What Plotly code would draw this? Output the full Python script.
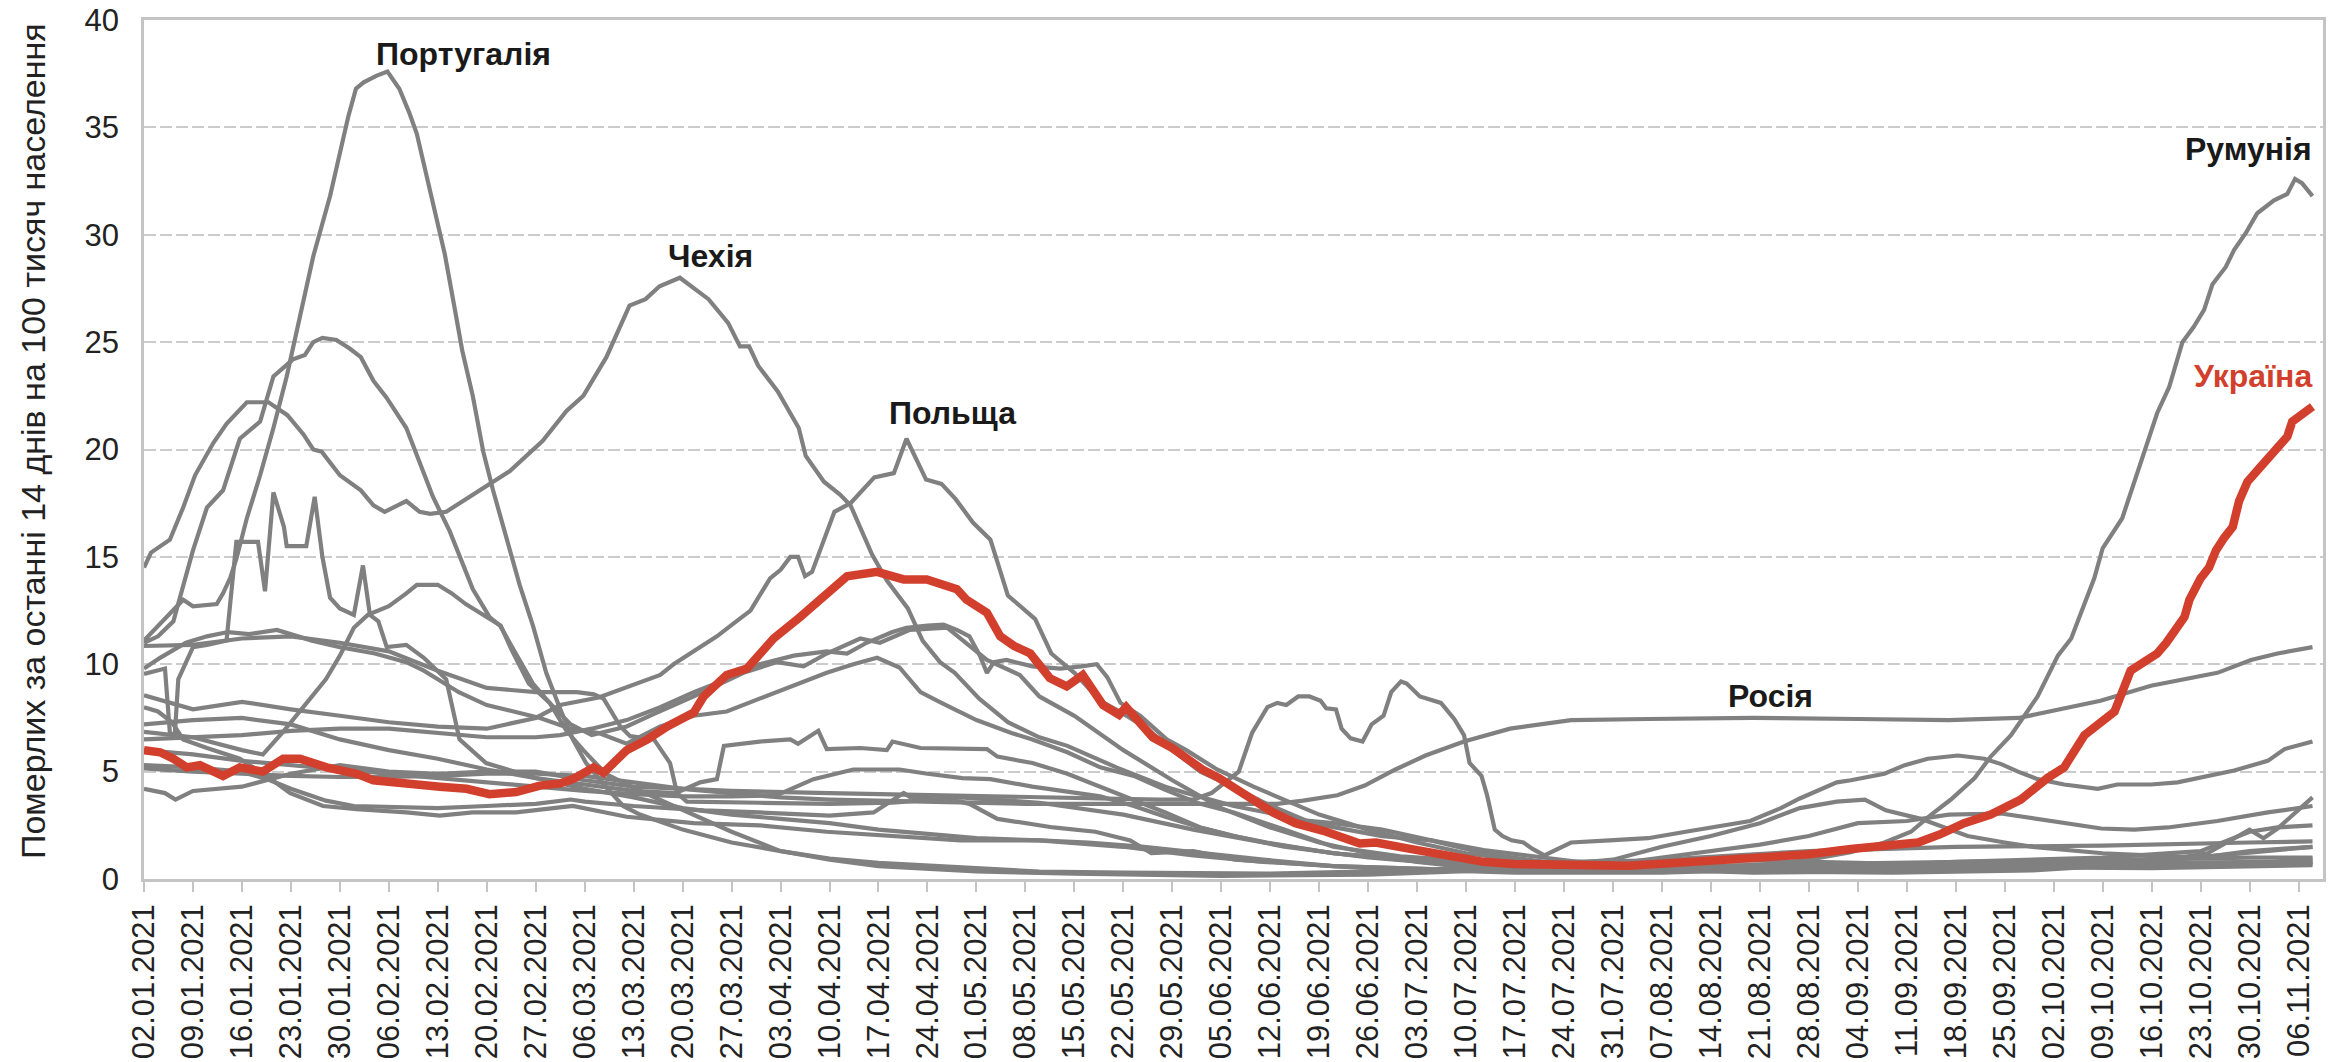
import pandas as pd
import plotly.graph_objects as go

# ---------------- data: (day offset from 02.01.2021, deaths per 100k over 14 days) ----------------
start_date = "2021-01-02"

ukraine = [(0, 6.0), (2.3, 5.9), (4.2, 5.6), (6.1, 5.2), (8, 5.3), (11.3, 4.8), (13.7, 5.2), (17, 5.0),
           (19.9, 5.6), (22.3, 5.6), (26.1, 5.2), (30.4, 4.9), (32.8, 4.6), (37.5, 4.5), (42.3, 4.3),
           (46.1, 4.2), (49.4, 3.95), (53.2, 4.05), (56.6, 4.35), (59.5, 4.45), (61.3, 4.65), (64.3, 5.2),
           (65.7, 4.95), (69, 6.0), (72, 6.5), (74.8, 7.1), (78.6, 7.75), (80, 8.5), (83.3, 9.5), (86.2, 9.8),
           (90, 11.2), (93.8, 12.2), (97.6, 13.3), (100.5, 14.1), (104.8, 14.3), (108.6, 13.95), (111.9, 13.95),
           (114, 13.7), (116.2, 13.5), (117.6, 13.0), (120.5, 12.4), (122.4, 11.3), (124.4, 10.85), (126.7, 10.5),
           (128.6, 9.7), (129.5, 9.35), (131.9, 8.97), (134.2, 9.5), (137.1, 8.1), (139.4, 7.65), (140.4, 8.0),
           (144.2, 6.6), (147, 6.1), (151.3, 5.1), (153.7, 4.7), (158, 3.8), (161.4, 3.1), (164.6, 2.6),
           (169, 2.2), (173.8, 1.65), (176.1, 1.7), (181, 1.4), (184.3, 1.2), (187.6, 1.0), (191.5, 0.8),
           (195.8, 0.7), (204, 0.62), (212.2, 0.62), (220.4, 0.78), (229.6, 0.93), (238, 1.15), (244, 1.4),
           (249.8, 1.6), (253.6, 1.7), (256.9, 2.1), (260.2, 2.6), (264, 3.0), (268.3, 3.7), (272.1, 4.7),
           (274.5, 5.2), (277.4, 6.7), (281.7, 7.8), (284, 9.7), (287.8, 10.5), (289.1, 11.0), (290.5, 11.65),
           (291.7, 12.2), (292.4, 13.0), (294, 14.0), (295.2, 14.5), (296.2, 15.3), (297.4, 15.9), (298.6, 16.4),
           (299.5, 17.6), (300.7, 18.5), (302.6, 19.2), (304, 19.7), (305, 20.2), (306.4, 20.6), (307.1, 21.3),
           (308.3, 21.55), (310, 22.0)]

portugal = [(0, 11.1), (3.7, 12.4), (5.6, 13.0), (7, 12.7), (10.4, 12.8), (11.3, 13.3), (12.3, 14.0), (13.2, 14.9),
            (14.7, 16.8), (16.6, 18.8), (18.5, 21.0), (20.4, 23.4), (22.3, 26.3), (24.2, 29.0), (26.6, 31.8),
            (28.5, 34.5), (29.2, 35.5), (30.3, 36.8), (31.4, 37.1), (33.2, 37.4), (34.8, 37.6), (36.5, 36.8),
            (37.9, 35.7), (39, 34.7), (40.1, 33.2), (41.5, 31.3), (43, 29.1), (44.4, 26.6), (45.5, 24.6),
            (47, 22.5), (48.5, 19.9), (49.9, 18.1), (51.8, 15.9), (53.7, 13.7), (55.6, 11.8), (57.5, 9.6),
            (59.4, 8.0), (61.3, 6.5), (63.2, 5.4), (66, 4.3), (68.5, 3.4), (70.9, 3.0), (77, 2.3), (84, 1.7),
            (91, 1.3), (98, 0.95), (105, 0.75), (112, 0.62), (119, 0.5), (128, 0.35), (140, 0.3), (161, 0.25),
            (182, 0.4), (203, 0.8), (224, 0.9), (245, 0.75), (266, 0.55), (287, 0.5), (310, 0.65)]

czechia = [(0, 14.5), (1, 15.2), (3.7, 15.8), (5.6, 17.3), (7.3, 18.8), (9.9, 20.3), (11.8, 21.2), (14.7, 22.2),
           (17.8, 22.2), (20.5, 21.6), (22.8, 20.7), (24.2, 20.0), (25.4, 19.9), (28, 18.8), (31, 18.1),
           (32.8, 17.4), (34.4, 17.1), (37.5, 17.6), (39.4, 17.1), (40.9, 17.0), (43.2, 17.1), (46.6, 17.8),
           (52.3, 19.0), (57, 20.4), (60.4, 21.8), (62.8, 22.5), (66.1, 24.3), (69.4, 26.7), (71.7, 27.0),
           (73.7, 27.6), (76.6, 28.0), (80.7, 27.0), (83.5, 25.9), (85.2, 24.8), (86.5, 24.8), (87.8, 23.9),
           (90.6, 22.7), (93.6, 21.0), (94.6, 19.7), (97.2, 18.5), (99.5, 17.9), (101, 17.4), (102.8, 16.0),
           (104.1, 15.1), (106.2, 13.9), (109.2, 12.6), (111.3, 11.1), (113.8, 10.1), (115.9, 9.6), (119.4, 8.4),
           (123.5, 7.3), (128, 6.6), (132, 6.2), (139, 5.2), (146, 4.3), (149, 4.0), (155.8, 3.4), (160.5, 3.1),
           (165, 2.75), (170, 2.6), (177, 2.3), (184, 1.8), (191.5, 1.2), (200, 0.8), (210, 0.5), (230, 0.3),
           (250, 0.35), (270, 0.5), (290, 0.9), (310, 1.5)]

uk = [(0, 11.0), (2, 11.3), (4.2, 12.0), (7, 15.3), (9, 17.3), (11.3, 18.1), (13.7, 20.5), (16.6, 21.3),
      (18.5, 23.4), (21.3, 24.2), (23, 24.4), (24.2, 25.0), (25.5, 25.2), (27.5, 25.1), (29.4, 24.7), (31, 24.3),
      (32.8, 23.2), (34.7, 22.4), (37.5, 21.0), (39, 19.7), (41.3, 17.8), (43.7, 16.2), (45.1, 15.1), (47, 13.5),
      (49.4, 12.2), (50.9, 11.8), (52.8, 10.7), (55.6, 9.1), (58, 8.2), (60.4, 6.9), (62.8, 6.0), (66, 4.9),
      (70.9, 4.1), (77, 3.2), (84, 2.2), (91, 1.3), (98, 0.9), (105, 0.6), (119, 0.35), (133, 0.25), (154, 0.15),
      (175, 0.2), (196, 0.45), (217, 0.9), (238, 1.3), (259, 1.5), (280, 1.55), (301, 1.7), (310, 1.75)]

poland = [(0, 8.55), (7, 7.9), (14, 8.25), (21, 7.9), (28, 7.6), (35, 7.3), (42, 7.1), (49, 7.0), (56, 7.5),
          (59.5, 8.1), (65, 8.45), (70.5, 9.1), (73.8, 9.5), (75.7, 10.0), (78.6, 10.6), (81.9, 11.3), (84.3, 11.9),
          (86.7, 12.5), (89.5, 14.0), (91, 14.4), (92.4, 15.0), (93.5, 15.0), (94.5, 14.1), (95.5, 14.3),
          (96.7, 15.35), (98.7, 17.1), (101, 17.5), (104.4, 18.7), (107.2, 18.9), (109, 20.5), (111.8, 18.6),
          (114, 18.4), (116, 17.7), (118.5, 16.6), (121, 15.8), (123.5, 13.2), (127.4, 12.1), (129.7, 10.5),
          (133, 9.6), (136.7, 8.3), (140, 7.7), (143.4, 7.0), (147, 6.0), (151, 5.0), (155, 4.4), (160.5, 3.5),
          (167, 2.6), (172, 2.3), (177, 2.0), (184, 1.8), (191.5, 1.35), (200, 1.0), (210, 0.6), (230, 0.35),
          (250, 0.3), (270, 0.4), (285, 0.7), (295, 1.2), (301, 2.3), (303, 1.9), (305, 2.35), (310, 3.8)]

romania = [(0, 6.85), (7, 6.6), (14, 6.0), (17, 5.8), (20, 6.9), (23, 8.1), (26, 9.3), (28, 10.4), (30, 11.7),
           (32, 12.3), (35, 12.7), (37.5, 13.3), (39, 13.7), (42, 13.7), (44, 13.3), (46, 12.8), (49, 12.2),
           (51, 11.8), (52.5, 10.7), (55, 9.1), (58, 8.2), (61, 7.2), (64, 6.7), (69, 7.1), (73, 7.7), (78.6, 8.5),
           (85.7, 9.6), (90.5, 10.1), (94.3, 9.9), (97.6, 10.5), (102.4, 11.2), (105.2, 11.0), (109.5, 11.6),
           (114.8, 11.7), (116.7, 11.2), (120.5, 10.2), (125.2, 9.5), (128, 8.5), (133, 7.6), (140, 6.0),
           (147, 4.6), (154, 3.3), (161, 2.4), (168, 1.7), (175, 1.2), (182, 0.8), (189, 0.55), (203, 0.35),
           (217, 0.35), (231, 0.6), (238, 0.9), (244, 1.25), (248.8, 1.7), (252.6, 2.2), (255.5, 3.0),
           (258.3, 3.7), (261.7, 4.7), (264, 5.7), (266.9, 6.7), (270.7, 8.5), (273.6, 10.4), (275.5, 11.2),
           (278.8, 14.0), (280, 15.4), (282.8, 16.8), (285.2, 19.2), (286.4, 20.4), (287.8, 21.7), (289.5, 22.9),
           (291.4, 25.0), (293, 25.7), (294.5, 26.5), (295.7, 27.7), (297.6, 28.5), (298.8, 29.3), (300.5, 30.1),
           (302.1, 31.0), (304.5, 31.6), (306.4, 31.9), (307.5, 32.6), (308.5, 32.4), (310, 31.8)]

russia = [(0, 5.15), (7, 5.0), (14, 4.9), (21, 4.8), (28, 4.75), (35, 4.75), (42, 4.8), (49, 4.9), (56, 4.9),
          (63, 4.8), (70, 4.5), (77, 4.2), (84, 4.0), (91, 3.8), (98, 3.7), (112, 3.6), (126, 3.5), (140, 3.5),
          (154, 3.5), (162, 3.5), (165.7, 3.65), (170.6, 3.9), (174.5, 4.35), (178.9, 5.1), (183.2, 5.75),
          (188.7, 6.4), (195.3, 7.0), (204, 7.4), (215, 7.45), (230, 7.5), (245, 7.45), (258, 7.4), (268, 7.5),
          (272.6, 7.8), (279.7, 8.3), (286.9, 9.0), (296.4, 9.6), (301.2, 10.2), (305, 10.5), (310, 10.8)]

spiky = [(0, 9.55), (3, 9.8), (3.7, 6.8), (4.4, 6.7), (4.9, 9.3), (7, 10.8), (9, 10.9), (11.8, 11.1), (13.2, 15.7),
         (16.3, 15.7), (17.3, 13.4), (18.5, 18.0), (20, 16.4), (20.4, 15.5), (23.2, 15.5), (24.4, 17.8), (25.5, 15.0),
         (26.6, 13.1), (28, 12.6), (30, 12.3), (31.3, 14.6), (32.3, 12.3), (33.5, 12.0), (34.7, 10.8), (37.5, 10.9),
         (40, 10.3), (43.2, 9.3), (44.7, 7.1), (45.1, 6.5), (48.9, 5.4), (56, 4.7), (63, 4.2), (70, 3.8), (77, 3.3),
         (84, 3.0), (91, 2.8), (98, 2.6), (105, 2.3), (112, 2.1), (119, 1.9), (128, 1.8), (140, 1.5), (150, 1.1),
         (160, 0.8), (175, 0.5), (196, 0.3), (217, 0.3), (238, 0.5), (259, 0.8), (280, 1.0), (294, 1.3), (301, 2.2),
         (305, 2.4), (310, 2.5)]

country_t = [(0, 10.85), (7, 10.9), (14, 11.2), (21, 11.3), (28, 11.0), (35, 10.6), (42, 9.7), (49, 8.9), (56, 8.7),
             (61.9, 8.7), (64.3, 8.6), (65.7, 8.4), (68.1, 7.1), (69.5, 6.65), (72.9, 6.5), (75.2, 5.4), (76.2, 4.0),
             (77.6, 3.6), (88, 3.55), (98, 3.5), (107, 3.55), (116.7, 3.8), (128, 3.55), (140, 3.0), (150, 2.3),
             (160, 1.7), (170, 1.2), (185, 0.8), (200, 0.6), (220, 0.6), (240, 0.7), (260, 0.8), (280, 0.9),
             (301, 1.0), (310, 1.0)]

country_i = [(0, 9.8), (2.3, 10.3), (6, 11.0), (9, 11.3), (12, 11.5), (15, 11.4), (19, 11.6), (24, 11.1), (28, 10.8),
             (33, 10.5), (37.5, 10.1), (40, 9.7), (42, 9.3), (45, 8.7), (49, 8.1), (52, 7.85), (56.6, 7.5), (61, 7.0),
             (65, 6.8), (69, 6.3), (73.8, 7.1), (78.6, 7.6), (83.3, 7.8), (88, 8.4), (92.9, 9.0), (97.6, 9.6),
             (101.4, 10.0), (104.8, 10.3), (108, 9.85), (111, 8.7), (114, 8.2), (119, 7.4), (124, 6.8), (127, 6.5),
             (132, 5.9), (136.7, 5.2), (141.5, 4.8), (146, 4.15), (151, 3.5), (155.8, 3.1), (163, 2.3), (170, 1.5),
             (179.6, 1.05), (191.5, 0.8), (203, 0.5), (217, 0.35), (238, 0.4), (259, 0.55), (280, 0.6), (301, 0.7),
             (310, 0.95)]

country_f = [(0, 6.5), (7, 6.6), (14, 6.7), (21, 6.9), (28, 7.0), (35, 7.0), (42, 6.8), (49, 6.6), (56, 6.6),
             (59.5, 6.7), (64, 7.0), (69, 7.4), (73.8, 8.0), (78.6, 8.7), (83.3, 9.3), (88, 10.0), (92.9, 10.4),
             (95, 10.5), (97.6, 10.6), (100.5, 10.5), (103.3, 11.0), (107, 11.5), (109, 11.7), (112, 11.8),
             (114.3, 11.85), (116.2, 11.6), (118, 11.3), (119.5, 10.4), (120.5, 9.6), (121.5, 10.1), (123.3, 10.2),
             (127, 9.9), (131, 9.8), (134, 9.9), (136.2, 10.0), (137.7, 9.4), (139.6, 8.2), (142.4, 7.6),
             (146.2, 6.5), (149, 6.0), (153.4, 5.1), (158.6, 4.3), (163, 3.7), (168, 3.0), (175, 2.3), (182, 1.7),
             (189, 1.2), (196, 0.9), (210, 0.6), (224, 0.5), (245, 0.45), (266, 0.55), (287, 0.65), (301, 0.75),
             (310, 0.8)]

country_l5 = [(0, 7.2), (7, 7.4), (14, 7.5), (21, 7.2), (28, 6.5), (35, 6.0), (42, 5.6), (49, 5.1), (56, 4.7),
              (63, 4.4), (70, 4.1), (76, 4.0), (79.5, 4.5), (81.9, 4.65), (82.9, 6.2), (88, 6.4), (92.4, 6.5),
              (93.5, 6.3), (96.4, 6.9), (97.6, 6.05), (102.4, 6.1), (106.2, 6.0), (107, 6.4), (111, 6.1),
              (116.7, 6.05), (120.5, 6.05), (122, 5.7), (127, 5.4), (132, 4.9), (136.7, 4.3), (141.5, 3.7),
              (146, 3.1), (151, 2.4), (155.8, 2.0), (160.5, 1.7), (170, 1.2), (179.6, 0.9), (191.5, 0.6), (203, 0.5),
              (210, 0.7), (217, 1.0), (224, 1.3), (231, 1.6), (238, 2.0), (245, 2.6), (252, 2.7), (258, 3.0),
              (265.5, 3.05), (272.6, 2.7), (279.8, 2.35), (284.5, 2.3), (289.3, 2.4), (296.4, 2.7), (303.6, 3.1),
              (310, 3.4)]

country_l6 = [(0, 6.0), (7, 5.8), (14, 5.5), (21, 5.3), (28, 5.1), (35, 4.9), (42, 4.7), (49, 4.5), (56, 4.3),
              (63, 4.1), (70, 3.95), (77, 3.85), (84, 3.85), (90.5, 3.9), (95.7, 4.65), (101.4, 5.1), (108, 5.1),
              (112, 4.9), (117, 4.7), (121, 4.65), (127, 4.3), (136.7, 3.85), (141.5, 3.4), (146, 2.9), (151, 2.4),
              (155.8, 2.0), (163, 1.5), (175, 1.0), (190, 0.6), (200, 0.6), (210, 0.9), (217, 1.5), (224, 2.0),
              (231, 2.6), (236.7, 3.3), (242, 3.6), (246, 3.7), (249, 3.2), (254, 2.8), (260.7, 2.0), (266, 1.7),
              (270, 1.5), (280, 1.2), (294, 1.0), (301, 1.3), (310, 1.5)]

country_l9 = [(0, 8.0), (2, 7.8), (4, 7.3), (5.6, 6.5), (9, 6.1), (13.7, 5.6), (17.5, 4.8), (20.9, 4.0), (25.6, 3.4),
              (30.4, 3.25), (37.5, 3.1), (42.3, 2.95), (47, 3.1), (53.2, 3.1), (61.3, 3.4), (69, 2.9), (78.6, 2.6),
              (88, 2.5), (97.6, 2.2), (107, 2.0), (116.7, 1.8), (128, 1.8), (135, 1.7), (143, 1.5), (151, 1.2),
              (160, 0.9), (170, 0.6), (185, 0.45), (200, 0.4), (217, 0.5), (238, 0.6), (259, 0.7), (280, 0.75),
              (301, 0.8), (310, 0.8)]

country_l10 = [(0, 5.3), (7, 5.2), (14, 5.0), (18, 4.6), (21, 4.2), (26, 3.65), (30, 3.4), (35, 3.35), (42, 3.3),
               (49, 3.4), (56, 3.5), (61, 3.7), (63, 3.6), (70, 3.4), (80, 3.2), (88, 3.1), (98, 2.95),
               (104.3, 3.1), (108.6, 4.0), (109.6, 3.8), (116.7, 3.6), (118, 3.5), (122, 2.8), (130, 2.4),
               (136, 2.2), (141, 1.8), (144, 1.2), (150, 1.3), (156, 0.9), (170, 0.6), (190, 0.4), (210, 0.35),
               (230, 0.45), (250, 0.6), (270, 0.7), (290, 0.75), (310, 0.7)]

country_h = [(0, 4.2), (3, 4.0), (4.5, 3.7), (7, 4.1), (14, 4.3), (21, 4.9), (28, 5.3), (35, 5.0), (42, 4.9),
             (49, 5.0), (56, 5.0), (63, 4.6), (70, 4.3), (84, 4.1), (98, 4.0), (112, 3.9), (122, 3.85), (135, 3.75),
             (145, 3.7), (150, 3.7), (152.6, 4.0), (156.5, 5.0), (158.4, 6.8), (160.6, 8.0), (162, 8.2),
             (163.3, 8.1), (165, 8.5), (166.6, 8.5), (168.2, 8.3), (169, 7.95), (170.4, 7.9), (171.2, 7.0),
             (172.5, 6.55), (174.2, 6.4), (175.5, 7.2), (177.2, 7.6), (178.3, 8.7), (179.7, 9.2), (180.5, 9.1),
             (182.4, 8.5), (185.4, 8.2), (187.3, 7.45), (188.7, 6.7), (189.5, 5.4), (191.2, 4.8), (192, 3.9),
             (193.1, 2.3), (194.2, 2.0), (195.5, 1.8), (197.2, 1.7), (198.5, 1.4), (200.2, 1.1), (204, 1.7),
             (209.5, 1.8), (215, 1.9), (220.4, 2.2), (225.9, 2.5), (229.6, 2.7), (234, 3.3), (236.7, 3.75),
             (242, 4.5), (244, 4.6), (248.8, 4.9), (251.7, 5.3), (255, 5.6), (259.3, 5.75), (263.1, 5.6),
             (265.5, 5.35), (267.9, 5.0), (270.7, 4.65), (274.5, 4.4), (279.3, 4.2), (282.1, 4.4), (286.9, 4.4),
             (290.7, 4.5), (296.4, 4.9), (298.8, 5.05), (303.6, 5.5), (306, 6.05), (310, 6.4)]

gray_series = {
    "Португалія": portugal, "Чехія": czechia, "Велика Британія": uk, "Польща": poland,
    "Румунія": romania, "Росія": russia, "Країна A": spiky, "Країна B": country_t,
    "Країна C": country_i, "Країна D": country_f, "Країна E": country_l5, "Країна F": country_l6,
    "Країна G": country_l9, "Країна H": country_l10, "Країна I": country_h,
}

tick_labels = ["02.01.2021", "09.01.2021", "16.01.2021", "23.01.2021", "30.01.2021", "06.02.2021",
               "13.02.2021", "20.02.2021", "27.02.2021", "06.03.2021", "13.03.2021", "20.03.2021",
               "27.03.2021", "03.04.2021", "10.04.2021", "17.04.2021", "24.04.2021", "01.05.2021",
               "08.05.2021", "15.05.2021", "22.05.2021", "29.05.2021", "05.06.2021", "12.06.2021",
               "19.06.2021", "26.06.2021", "03.07.2021", "10.07.2021", "17.07.2021", "24.07.2021",
               "31.07.2021", "07.08.2021", "14.08.2021", "21.08.2021", "28.08.2021", "04.09.2021",
               "11.09.2021", "18.09.2021", "25.09.2021", "02.10.2021", "09.10.2021", "16.10.2021",
               "23.10.2021", "30.10.2021", "06.11.2021"]

# label text, day offset, value
labels = [("Португалія", 45.7, 38.4), ("Чехія", 81.0, 29.0), ("Польща", 115.6, 21.7), ("Росія", 232.5, 8.5)]
label_romania = ("Румунія", 310.2, 34.0)
label_ukraine = ("Україна", 310.2, 23.4)

y_title = "Померлих за останні 14 днів на 100 тисяч населення"

# ---------------- figure ----------------
base = pd.Timestamp(start_date)


def to_dates(days):
    return [base + pd.Timedelta(days=float(d)) for d in days]


GRAY = "#808080"
RED = "#d33f2d"
AXIS = "#c4c4c4"
FONT = "Liberation Sans, Arial, sans-serif"

fig = go.Figure()
for name, pts in gray_series.items():
    d, v = zip(*pts)
    fig.add_trace(go.Scatter(x=to_dates(d), y=list(v), mode="lines", name=name,
                             line=dict(color=GRAY, width=4.2), hoverinfo="name+y"))

d, v = zip(*ukraine)
fig.add_trace(go.Scatter(x=to_dates(d), y=list(v), mode="lines", name="Україна",
                         line=dict(color=RED, width=8.5), hoverinfo="name+y"))

tick_dates = [pd.to_datetime(t, format="%d.%m.%Y") for t in tick_labels]

fig.update_xaxes(
    type="date", automargin=False,
    range=[base, base + pd.Timedelta(days=311.5)],
    tickvals=tick_dates, ticktext=tick_labels, tickangle=-90,
    ticks="outside", ticklen=10, tickwidth=2, tickcolor=AXIS,
    showline=True, linecolor=AXIS, linewidth=2.5, mirror=True,
    showgrid=False, zeroline=False,
    tickfont=dict(family=FONT, size=31, color="#222222"),
)
fig.update_yaxes(
    automargin=False,
    range=[0, 40], dtick=5, tick0=0,
    showline=True, linecolor=AXIS, linewidth=2.5, mirror=True,
    showgrid=True, gridcolor="#cccccc", gridwidth=2, griddash="12px,4px",
    zeroline=False, ticks="", ticklabelstandoff=16,
    tickfont=dict(family=FONT, size=31, color="#222222"),
)

annotations = []
for text, day, val in labels:
    annotations.append(dict(x=base + pd.Timedelta(days=day), y=val, text=f"<b>{text}</b>", showarrow=False,
                            xanchor="center", yanchor="middle",
                            font=dict(family=FONT, size=32, color="#1a1a1a")))
for (text, day, val), col in [(label_romania, "#1a1a1a"), (label_ukraine, RED)]:
    annotations.append(dict(x=base + pd.Timedelta(days=day), y=val, text=f"<b>{text}</b>", showarrow=False,
                            xanchor="right", yanchor="middle",
                            font=dict(family=FONT, size=32, color=col)))
annotations.append(dict(xref="paper", yref="paper", x=-0.0509, y=0.51, text=y_title, textangle=-90,
                        showarrow=False, xanchor="center", yanchor="middle",
                        font=dict(family=FONT, size=34, color="#222222")))

fig.update_layout(
    width=2343, height=1062,
    margin=dict(l=144, r=20, t=20, b=183),
    plot_bgcolor="white", paper_bgcolor="white",
    showlegend=False, annotations=annotations,
    font=dict(family=FONT),
)

# remove the default 8 px page margin so the figure fills the window exactly
fig.write_html("out.html",
               config={"displayModeBar": False},
               post_script="document.body.style.margin='0';document.body.style.overflow='hidden';")
